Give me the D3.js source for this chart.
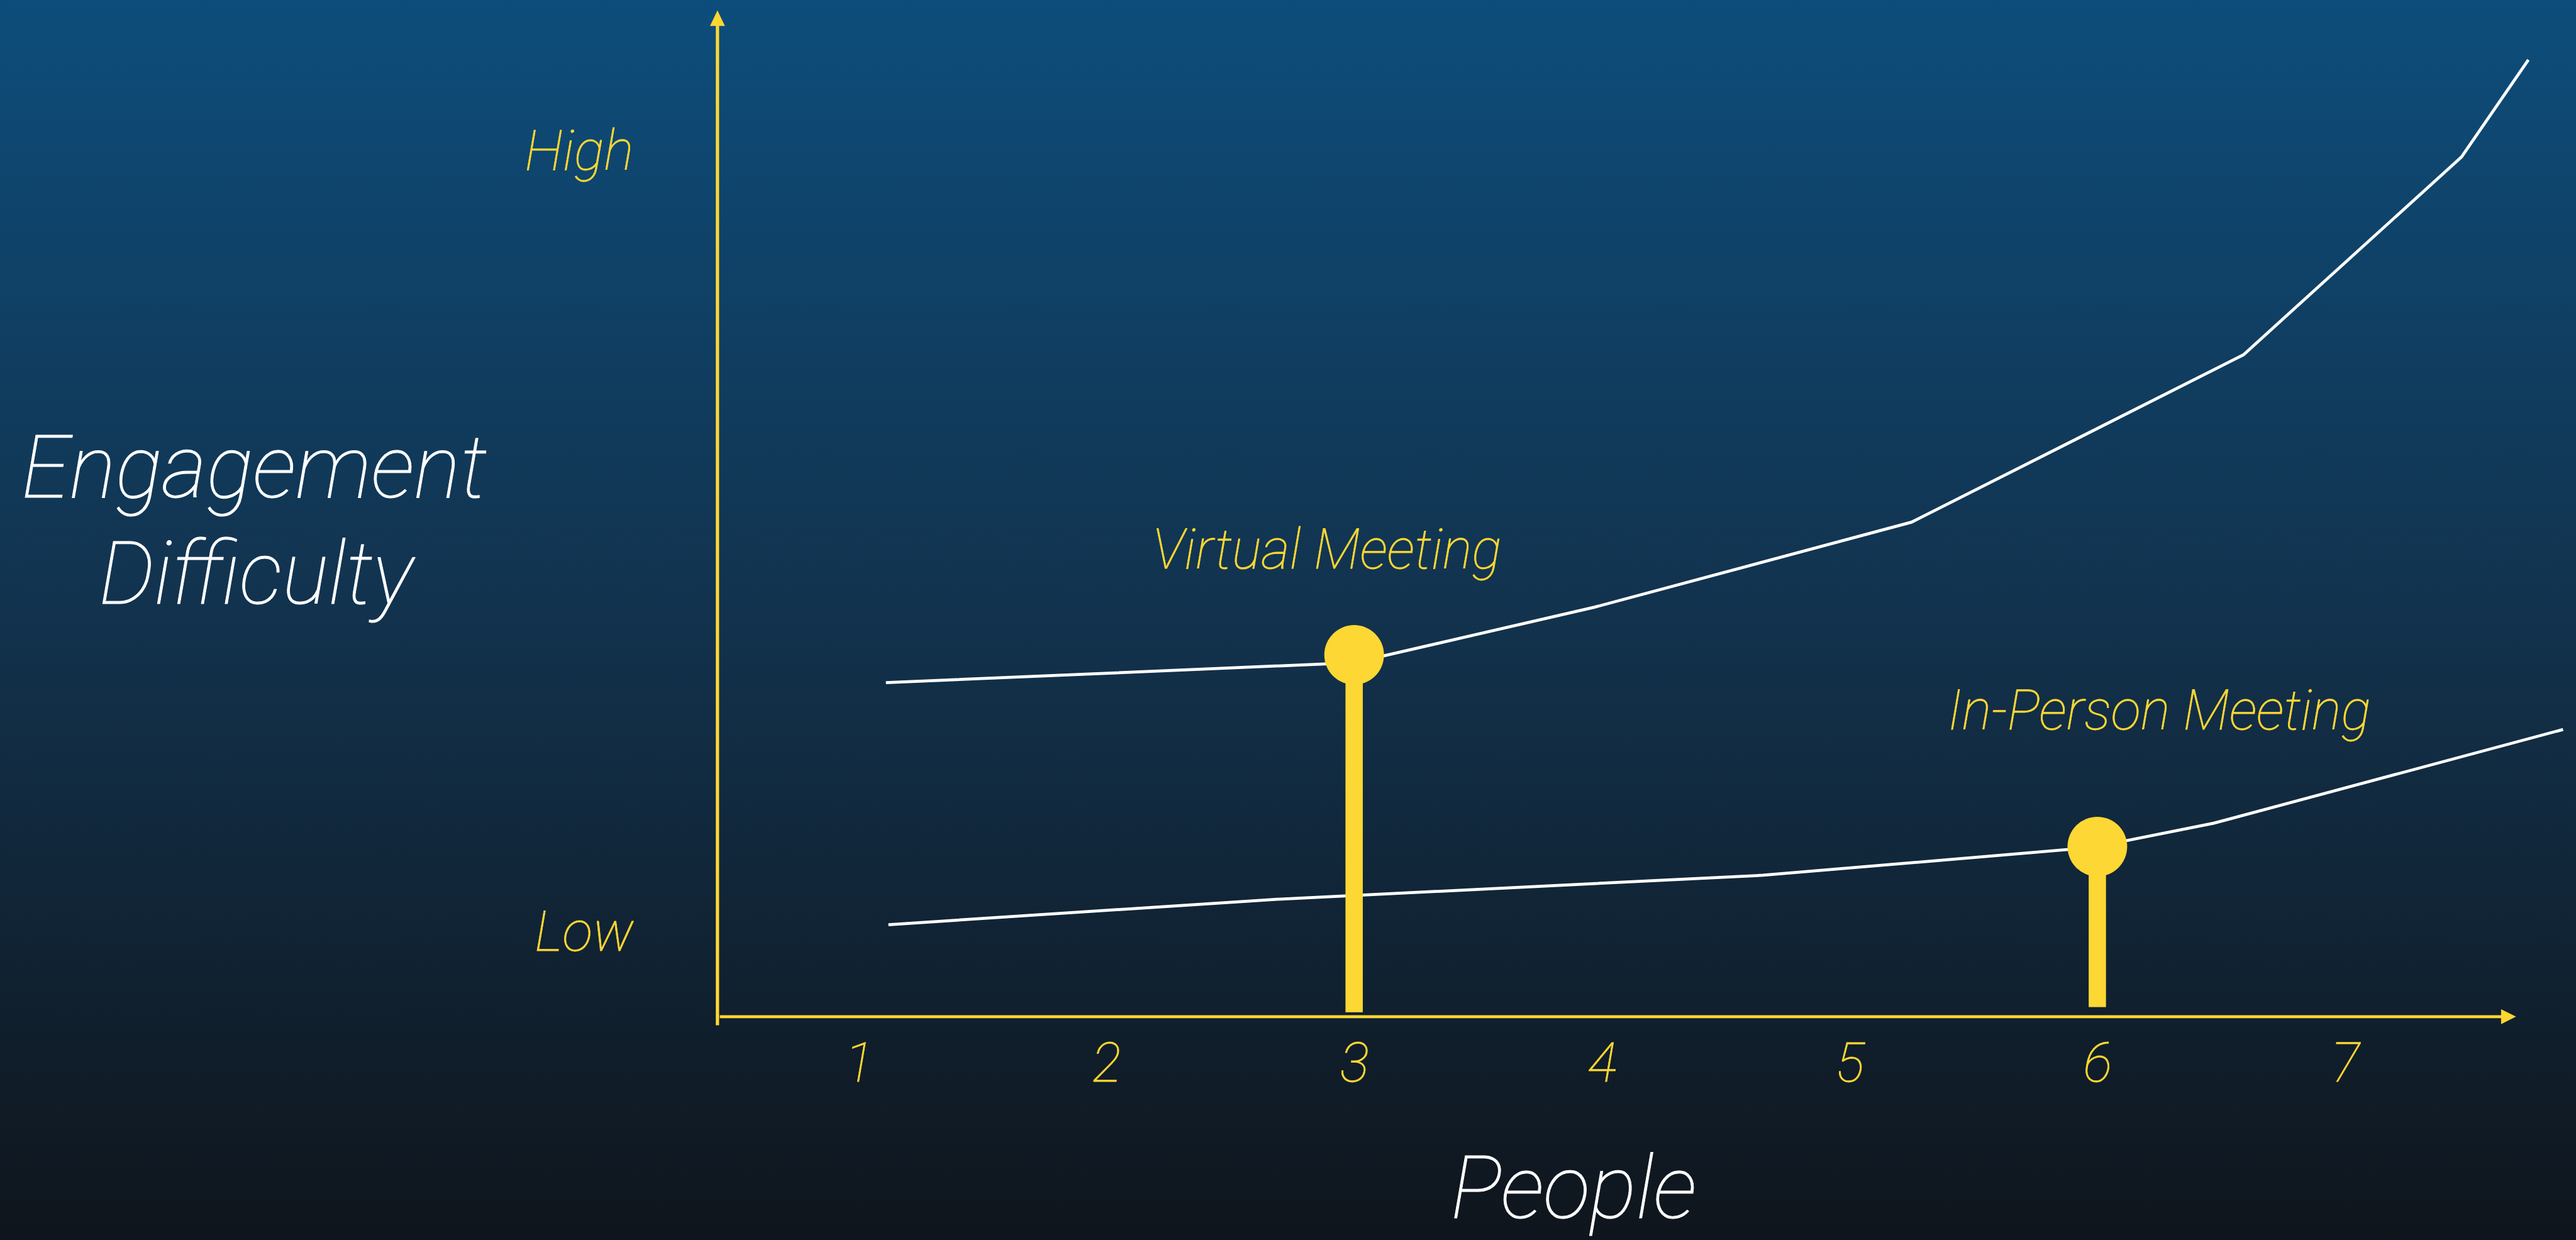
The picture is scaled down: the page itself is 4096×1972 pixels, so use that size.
<!DOCTYPE html>
<html><head><meta charset="utf-8">
<script src="https://cdn.jsdelivr.net/npm/d3@7"></script>
<style>html,body{margin:0;padding:0;background:#0f161d;overflow:hidden}</style>
</head><body>
<script>
// ---- data ----
const categories = [1, 2, 3, 4, 5, 6, 7];
const levelLabels = ["Low", "High"];
const levelValues = [1, 10];
const virtualX = [1.11, 3.0, 3.97, 5.25, 6.59, 7.47, 7.74];
const virtualY = [3.85, 4.08, 4.72, 5.70, 7.63, 9.91, 11.03];
const inPersonX = [1.12, 2.67, 4.65, 5.98, 6.47, 7.88];
const inPersonY = [1.06, 1.35, 1.63, 1.95, 2.23, 3.31];
const markerNames = ["Virtual Meeting", "In-Person Meeting"];
const markerX = [3, 6];
const markerY = [4.17, 1.96];
const markerBase = [0.05, 0.11];
const labelX = [2.89, 6.25];
const labelY = [5.17, 3.31];
const xExtent = [0.43, 7.69];
const yExtent = [-0.1, 11.6];

// ---- layout (reference pixel space, scaled by viewBox) ----
const W = 4317, H = 2078;
const YELLOW = "#fdd733";
const FONT = "Roboto, 'Helvetica Neue', Lato, sans-serif";

const svg = d3.select("body").append("svg")
  .attr("width", 4096).attr("height", 1972)
  .attr("viewBox", `0 0 ${W} ${H}`)
  .attr("preserveAspectRatio", "xMinYMin meet");

const defs = svg.append("defs");
const grad = defs.append("linearGradient").attr("id", "bg")
  .attr("x1", 0).attr("y1", 0).attr("x2", 0).attr("y2", 1);
grad.append("stop").attr("offset", "0%").attr("stop-color", "#0d4d7b");
grad.append("stop").attr("offset", "50%").attr("stop-color", "#12324d");
grad.append("stop").attr("offset", "100%").attr("stop-color", "#0f151c");
svg.append("rect").attr("width", W).attr("height", H).attr("fill", "url(#bg)");

const x = d3.scaleLinear().domain([1, 7]).range([1439, 3930]);
const y = d3.scaleLinear().domain([0, 10]).range([1704, 250]);

const x0 = x(xExtent[0]), x1 = x(xExtent[1]);
const y0 = y(0), yTop = y(yExtent[1]), yBot = y(yExtent[0]);

// axes
const ax = svg.append("g");
ax.append("line").attr("x1", x0).attr("x2", x0).attr("y1", yBot).attr("y2", yTop + 25)
  .attr("stroke", YELLOW).attr("stroke-width", 5.5);
ax.append("path").attr("d", `M${x0},${yTop} L${x0 - 12.5},${yTop + 26} L${x0 + 12.5},${yTop + 26} Z`)
  .attr("fill", YELLOW);
ax.append("line").attr("x1", x0 + 4).attr("x2", x1 - 24).attr("y1", y0).attr("y2", y0)
  .attr("stroke", YELLOW).attr("stroke-width", 5);
ax.append("path").attr("d", `M${x1},${y0} L${x1 - 25},${y0 - 12.5} L${x1 - 25},${y0 + 12.5} Z`)
  .attr("fill", YELLOW);

// x tick labels via axis
const xAxis = d3.axisBottom(x).tickValues(categories).tickSize(0).tickPadding(44)
  .tickFormat(d3.format("d"));
const gx = svg.append("g").attr("transform", `translate(0,${y0})`).call(xAxis);
gx.select(".domain").remove();
gx.selectAll("text").attr("fill", YELLOW).attr("stroke", YELLOW).attr("stroke-width", 0.8)
  .attr("font-family", FONT)
  .attr("font-style", "italic").attr("font-weight", 100).attr("font-size", 92);

// y level labels
svg.append("g").selectAll("text").data(levelLabels).join("text")
  .attr("x", 1062).attr("y", (d, i) => y(levelValues[i]))
  .attr("dy", 35)
  .attr("text-anchor", "end")
  .attr("fill", YELLOW).attr("stroke", YELLOW).attr("stroke-width", 0.8)
  .attr("font-family", FONT)
  .attr("font-style", "italic").attr("font-weight", 100).attr("font-size", 94)
  .text(d => d);

// lines
const line = d3.line().x(d => x(d[0])).y(d => y(d[1]));
const virtualPts = virtualX.map((v, i) => [v, virtualY[i]]);
const inPersonPts = inPersonX.map((v, i) => [v, inPersonY[i]]);
svg.append("path").attr("d", line(virtualPts)).attr("fill", "none")
  .attr("stroke", "#ffffff").attr("stroke-width", 5);
svg.append("path").attr("d", line(inPersonPts)).attr("fill", "none")
  .attr("stroke", "#ffffff").attr("stroke-width", 5);

// lollipop markers
const mk = svg.append("g");
markerNames.forEach((name, i) => {
  mk.append("rect")
    .attr("x", x(markerX[i]) - 14.5).attr("width", 29)
    .attr("y", y(markerY[i])).attr("height", y(markerBase[i]) - y(markerY[i]))
    .attr("fill", YELLOW);
  mk.append("circle").attr("cx", x(markerX[i])).attr("cy", y(markerY[i])).attr("r", 50)
    .attr("fill", YELLOW);
  mk.append("text").attr("x", x(labelX[i])).attr("y", y(labelY[i]))
    .attr("text-anchor", "middle").attr("fill", YELLOW)
    .attr("stroke", YELLOW).attr("stroke-width", 0.8)
    .attr("font-family", FONT)
    .attr("font-style", "italic").attr("font-weight", 100).attr("font-size", 93)
    .text(name);
});

// axis titles
const t = svg.append("g").attr("fill", "#ffffff").attr("stroke", "#ffffff").attr("stroke-width", 1)
  .attr("font-family", FONT)
  .attr("font-style", "italic").attr("font-weight", 100).attr("font-size", 146)
  .attr("text-anchor", "middle");
t.append("text").attr("x", 426).attr("y", 834).text("Engagement");
t.append("text").attr("x", 429).attr("y", 1012).text("Difficulty");
t.append("text").attr("x", 2637).attr("y", 2042).text("People");
</script>
</body></html>
